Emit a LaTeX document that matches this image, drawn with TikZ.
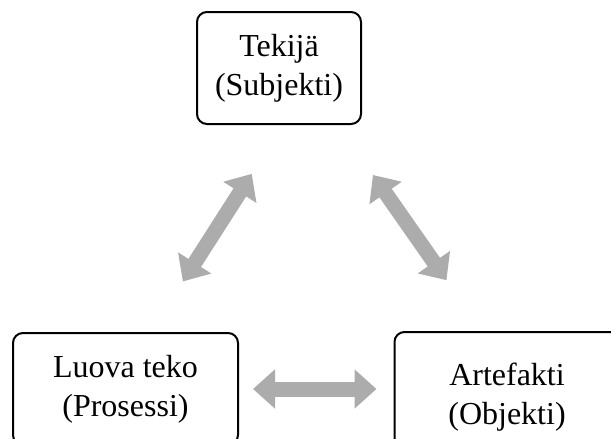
\documentclass[tikz,border=0pt]{standalone}
\usepackage{fontspec}
\setmainfont{Liberation Serif}
\usetikzlibrary{arrows.meta}

\begin{document}
\begin{tikzpicture}[x=1pt, y=-1pt,
    box/.style={draw, line width=2pt, rounded corners=10pt, align=center,
        inner sep=0pt, font=\fontsize{32}{39}\selectfont},
    dblarrow/.style={draw=gray!65, line width=15pt,
        {Triangle[length=22pt,width=38pt]}-{Triangle[length=22pt,width=38pt]}}]

    % --- Canvas ---
    % Same size as the picture, the bottom boxes run past its edges
    \useasboundingbox (0,0) rectangle (611,439);
    \clip (0,0) rectangle (611,439);

    % --- Boxes ---
    \node[box, minimum width=164pt, minimum height=112pt] (tekija) at (279,68) {Tekijä\\(Subjekti)};
    \node[box, minimum width=225pt, minimum height=112pt] (luova) at (125.5,389) {Luova teko\\(Prosessi)};
    \node[box, minimum width=225pt, minimum height=130pt] (artefakti) at (507,397) {Artefakti\\(Objekti)};

    % --- Arrows ---
    % Grey double arrows between the three boxes
    \draw[dblarrow, shorten <=58pt, shorten >=60pt] ([xshift=4pt]tekija.south) -- ([xshift=25pt]luova.north);
    \draw[dblarrow, shorten <=61pt, shorten >=62pt] ([xshift=59pt]tekija.south) -- ([xshift=-25pt]artefakti.north);
    \draw[dblarrow, shorten <=14pt, shorten >=17pt] (luova.east) -- (luova.east -| artefakti.west);

\end{tikzpicture}
\end{document}
